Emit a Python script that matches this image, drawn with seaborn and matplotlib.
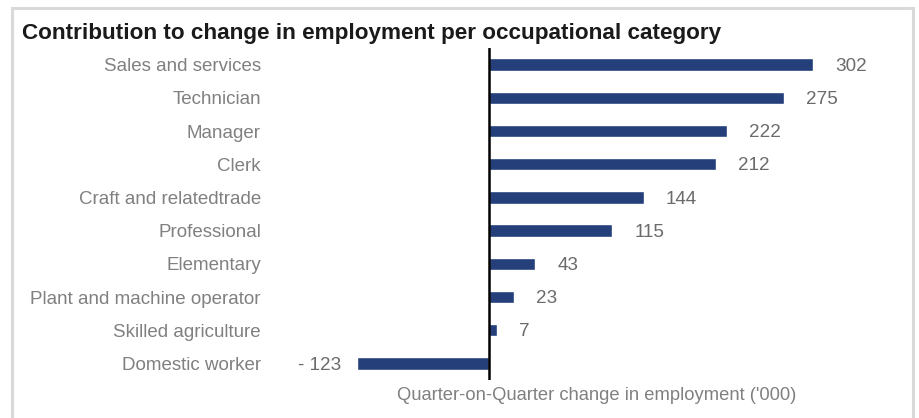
import matplotlib
matplotlib.use("Agg")
import matplotlib.pyplot as plt
import seaborn as sns
import pandas as pd
from matplotlib.patches import Rectangle

categories = ["Sales and services", "Technician", "Manager", "Clerk",
              "Craft and relatedtrade", "Professional", "Elementary",
              "Plant and machine operator", "Skilled agriculture", "Domestic worker"]
values = [302, 275, 222, 212, 144, 115, 43, 23, 7, -123]
value_labels = ["302", "275", "222", "212", "144", "115", "43", "23", "7", "- 123"]

title = "Contribution to change in employment per occupational category"
xlabel = "Quarter-on-Quarter change in employment ('000)"

sns.set_theme(style="white")
plt.rcParams['font.family'] = ['Liberation Sans', 'DejaVu Sans']

W, H = 919, 418
fig = plt.figure(figsize=(W / 100, H / 100), dpi=100)
ax_l, ax_r, ax_t, ax_b = 270, 900, 48, 380
ax = fig.add_axes([ax_l / W, 1 - ax_b / H, (ax_r - ax_l) / W, (ax_b - ax_t) / H])

df = pd.DataFrame({"cat": categories, "val": values})
bar_color = "#243F7A"
sns.barplot(data=df, y="cat", x="val", orient="h", color=bar_color,
            width=0.37, ax=ax, saturation=1)

scale = 1.073  # px per unit
xmin = -(489 - ax_l) / scale
xmax = (ax_r - 489) / scale
ax.set_xlim(xmin, xmax)
ax.set_ylim(len(categories) - 0.5, -0.5)

ax.axvline(0, color="black", lw=1.8, zorder=5)

for i, (v, lab) in enumerate(zip(values, value_labels)):
    if v >= 0:
        ax.annotate(lab, xy=(v, i), xytext=(22 * 0.72, -1.2), textcoords="offset points",
                    ha="left", va="center", fontsize=13.6, color="#6b6b6b")
    else:
        ax.annotate(lab, xy=(v, i), xytext=(-16 * 0.72, -1.2), textcoords="offset points",
                    ha="right", va="center", fontsize=13.6, color="#6b6b6b")

for s in ax.spines.values():
    s.set_visible(False)
ax.set_xticks([])
ax.set_xlabel("")
ax.set_ylabel("")
ax.tick_params(axis="y", length=0, pad=9 * 0.72, labelsize=13.5, labelcolor="#808080")

fig.text(22 / W, 1 - 33 / H, title, ha="left", va="center", fontsize=16.2,
         fontweight="bold", color="#1a1a1a")
fig.text(597 / W, 1 - 395 / H, xlabel, ha="center", va="center", fontsize=13.2,
         color="#808080")

fig.patches.append(Rectangle((12 / W, -0.05), (913 - 12) / W, 1.05 - 8 / H,
                             transform=fig.transFigure, fill=False,
                             edgecolor="#d9d9d9", lw=2.2, figure=fig))

fig.savefig("out.png", dpi=100)
